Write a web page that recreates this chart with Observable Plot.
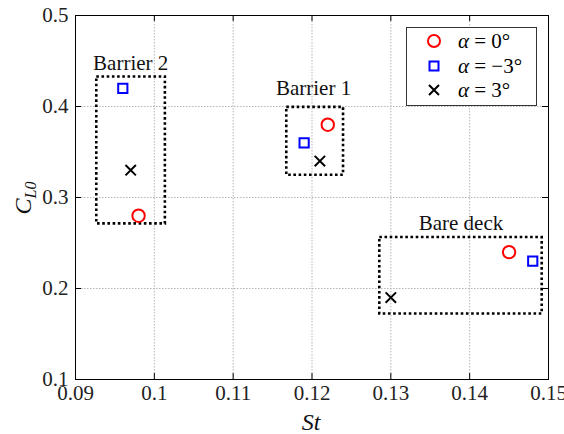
<!DOCTYPE html>
<html><head><meta charset="utf-8">
<script src="https://cdn.jsdelivr.net/npm/d3@7"></script>
<script src="https://cdn.jsdelivr.net/npm/@observablehq/plot@0.6"></script>
<style>
html,body{margin:0;padding:0;background:#fff;}
#wrap{position:relative;width:564px;height:434px;font-family:"Liberation Serif","DejaVu Serif","Noto Serif","Times New Roman",Times,"Nimbus Roman","FreeSerif",serif;}
#wrap svg text{font-family:"Liberation Serif","DejaVu Serif","Noto Serif","Times New Roman",Times,"Nimbus Roman","FreeSerif",serif;}
#legend{position:absolute;left:406px;top:27px;width:131px;height:79px;border:1px solid #333;background:#fff;box-sizing:border-box;}
.row{position:absolute;left:0;height:20px;font-size:21px;line-height:20px;white-space:nowrap;}
.row svg{position:absolute;left:17px;top:0;}
.row span{position:absolute;left:51px;top:0;}
</style></head>
<body><div id="wrap"></div>
<script>
// Data
const st_a0 = [0.098, 0.122, 0.145];
const cl_a0 = [0.28, 0.38, 0.24];
const st_am3 = [0.096, 0.119, 0.148];
const cl_am3 = [0.42, 0.36, 0.23];
const st_a3 = [0.097, 0.121, 0.130];
const cl_a3 = [0.33, 0.34, 0.19];
const boxNames = ["Barrier 2", "Barrier 1", "Bare deck"];
const boxX1 = [0.0927, 0.1168, 0.1286];
const boxX2 = [0.1014, 0.1240, 0.1492];
const boxY1 = [0.271, 0.3245, 0.172];
const boxY2 = [0.4325, 0.399, 0.256];
const labelX = [0.097, 0.1202, 0.1389];
const labelY = [0.447, 0.42, 0.272];
const xTicks = [0.09, 0.10, 0.11, 0.12, 0.13, 0.14, 0.15];
const xTickLabels = ["0.09", "0.1", "0.11", "0.12", "0.13", "0.14", "0.15"];
const yTicks = [0.1, 0.2, 0.3, 0.4, 0.5];
const yTickLabels = ["0.1", "0.2", "0.3", "0.4", "0.5"];
const legendLabels = ["α = 0°", "α = −3°", "α = 3°"];

const pts = (xs, ys) => xs.map((x, i) => ({x, y: ys[i]}));
const boxes = boxNames.map((n, i) => ({n, x1: boxX1[i], x2: boxX2[i], y1: boxY1[i], y2: boxY2[i], lx: labelX[i], ly: labelY[i]}));

const FONT = '"Liberation Serif", "DejaVu Serif", "Noto Serif", "Times New Roman", Times, "Nimbus Roman", FreeSerif, serif';
const W = 564, H = 434, mt = 15, mb = 55, ml = 75, mr = 16;
const fh = H - mt - mb;
const chart = Plot.plot({
  width: W, height: H,
  marginTop: mt, marginBottom: mb, marginLeft: ml, marginRight: mr,
  style: {fontFamily: FONT, fontSize: "21px", background: "transparent", overflow: "visible"},
  x: {domain: [0.09, 0.15]},
  y: {domain: [0.1, 0.5]},
  marks: [
    Plot.gridX(xTicks, {stroke: "#b5b5b5", strokeOpacity: 1, strokeDasharray: "1.5,1.5"}),
    Plot.gridY(yTicks, {stroke: "#b5b5b5", strokeOpacity: 1, strokeDasharray: "1.5,1.5"}),
    Plot.tickX(xTicks, {x: d => d, insetTop: fh - 6, stroke: "black"}),
    Plot.tickX(xTicks, {x: d => d, insetBottom: fh - 6, stroke: "black"}),
    Plot.tickY(yTicks, {y: d => d, insetRight: (W - ml - mr) - 6, stroke: "black"}),
    Plot.tickY(yTicks, {y: d => d, insetLeft: (W - ml - mr) - 6, stroke: "black"}),
    Plot.axisX(xTicks, {tickSize: 0, tickPadding: 6, tickFormat: (d, i) => xTickLabels[i], fill: "#222", label: null}),
    Plot.axisY(yTicks, {tickSize: 0, tickPadding: 7, tickFormat: (d, i) => yTickLabels[i], fill: "#222", label: null}),
    Plot.rect(boxes, {x1: "x1", x2: "x2", y1: "y1", y2: "y2", fill: "none", stroke: "black", strokeWidth: 2.6, strokeDasharray: "2.6,2.6"}),
    Plot.text(boxes, {x: "lx", y: "ly", text: "n", fill: "#111", fontSize: 21, lineAnchor: "middle"}),
    Plot.dot(pts(st_a0, cl_a0), {x: "x", y: "y", symbol: "circle", r: 6.2, stroke: "#ff0000", strokeWidth: 2}),
    Plot.dot(pts(st_am3, cl_am3), {x: "x", y: "y", symbol: "square", r: 5.2, stroke: "#0000ff", strokeWidth: 2}),
    Plot.dot(pts(st_a3, cl_a3), {x: "x", y: "y", symbol: "times", r: 4.8, stroke: "black", strokeWidth: 2}),
    Plot.frame({stroke: "black", strokeWidth: 1})
  ]
});
const wrap = document.getElementById("wrap");
wrap.appendChild(chart);
const svg = d3.select(chart);
// axis labels
const yl = svg.append("text").attr("transform", "translate(31,198) rotate(-90)")
  .attr("text-anchor", "middle").style("font-family", FONT).attr("fill", "#111");
yl.append("tspan").attr("font-style", "italic").attr("font-size", 24).text("C");
yl.append("tspan").attr("font-style", "italic").attr("font-size", 16).attr("dy", 5).text("L0");
svg.append("text").attr("x", 311).attr("y", 430).attr("text-anchor", "middle")
  .style("font-family", FONT).attr("font-style", "italic").attr("font-size", 24).attr("fill", "#111").text("St");

// legend
const leg = document.createElement("div");
leg.id = "legend";
const syms = [
  '<svg width="20" height="20"><circle cx="10" cy="10" r="6" fill="none" stroke="#ff0000" stroke-width="2"/></svg>',
  '<svg width="20" height="20"><rect x="5.5" y="5.5" width="9" height="9" fill="none" stroke="#0000ff" stroke-width="2"/></svg>',
  '<svg width="20" height="20"><path d="M5,5L15,15M15,5L5,15" stroke="black" stroke-width="2"/></svg>'
];
const rowsTop = [3, 28, 52];
legendLabels.forEach((t, i) => {
  const r = document.createElement("div");
  r.className = "row";
  r.style.top = rowsTop[i] + "px";
  const parts = t.split("α");
  r.innerHTML = syms[i] + '<span><i>α</i>' + parts[1] + '</span>';
  leg.appendChild(r);
});
wrap.appendChild(leg);
</script></body></html>
